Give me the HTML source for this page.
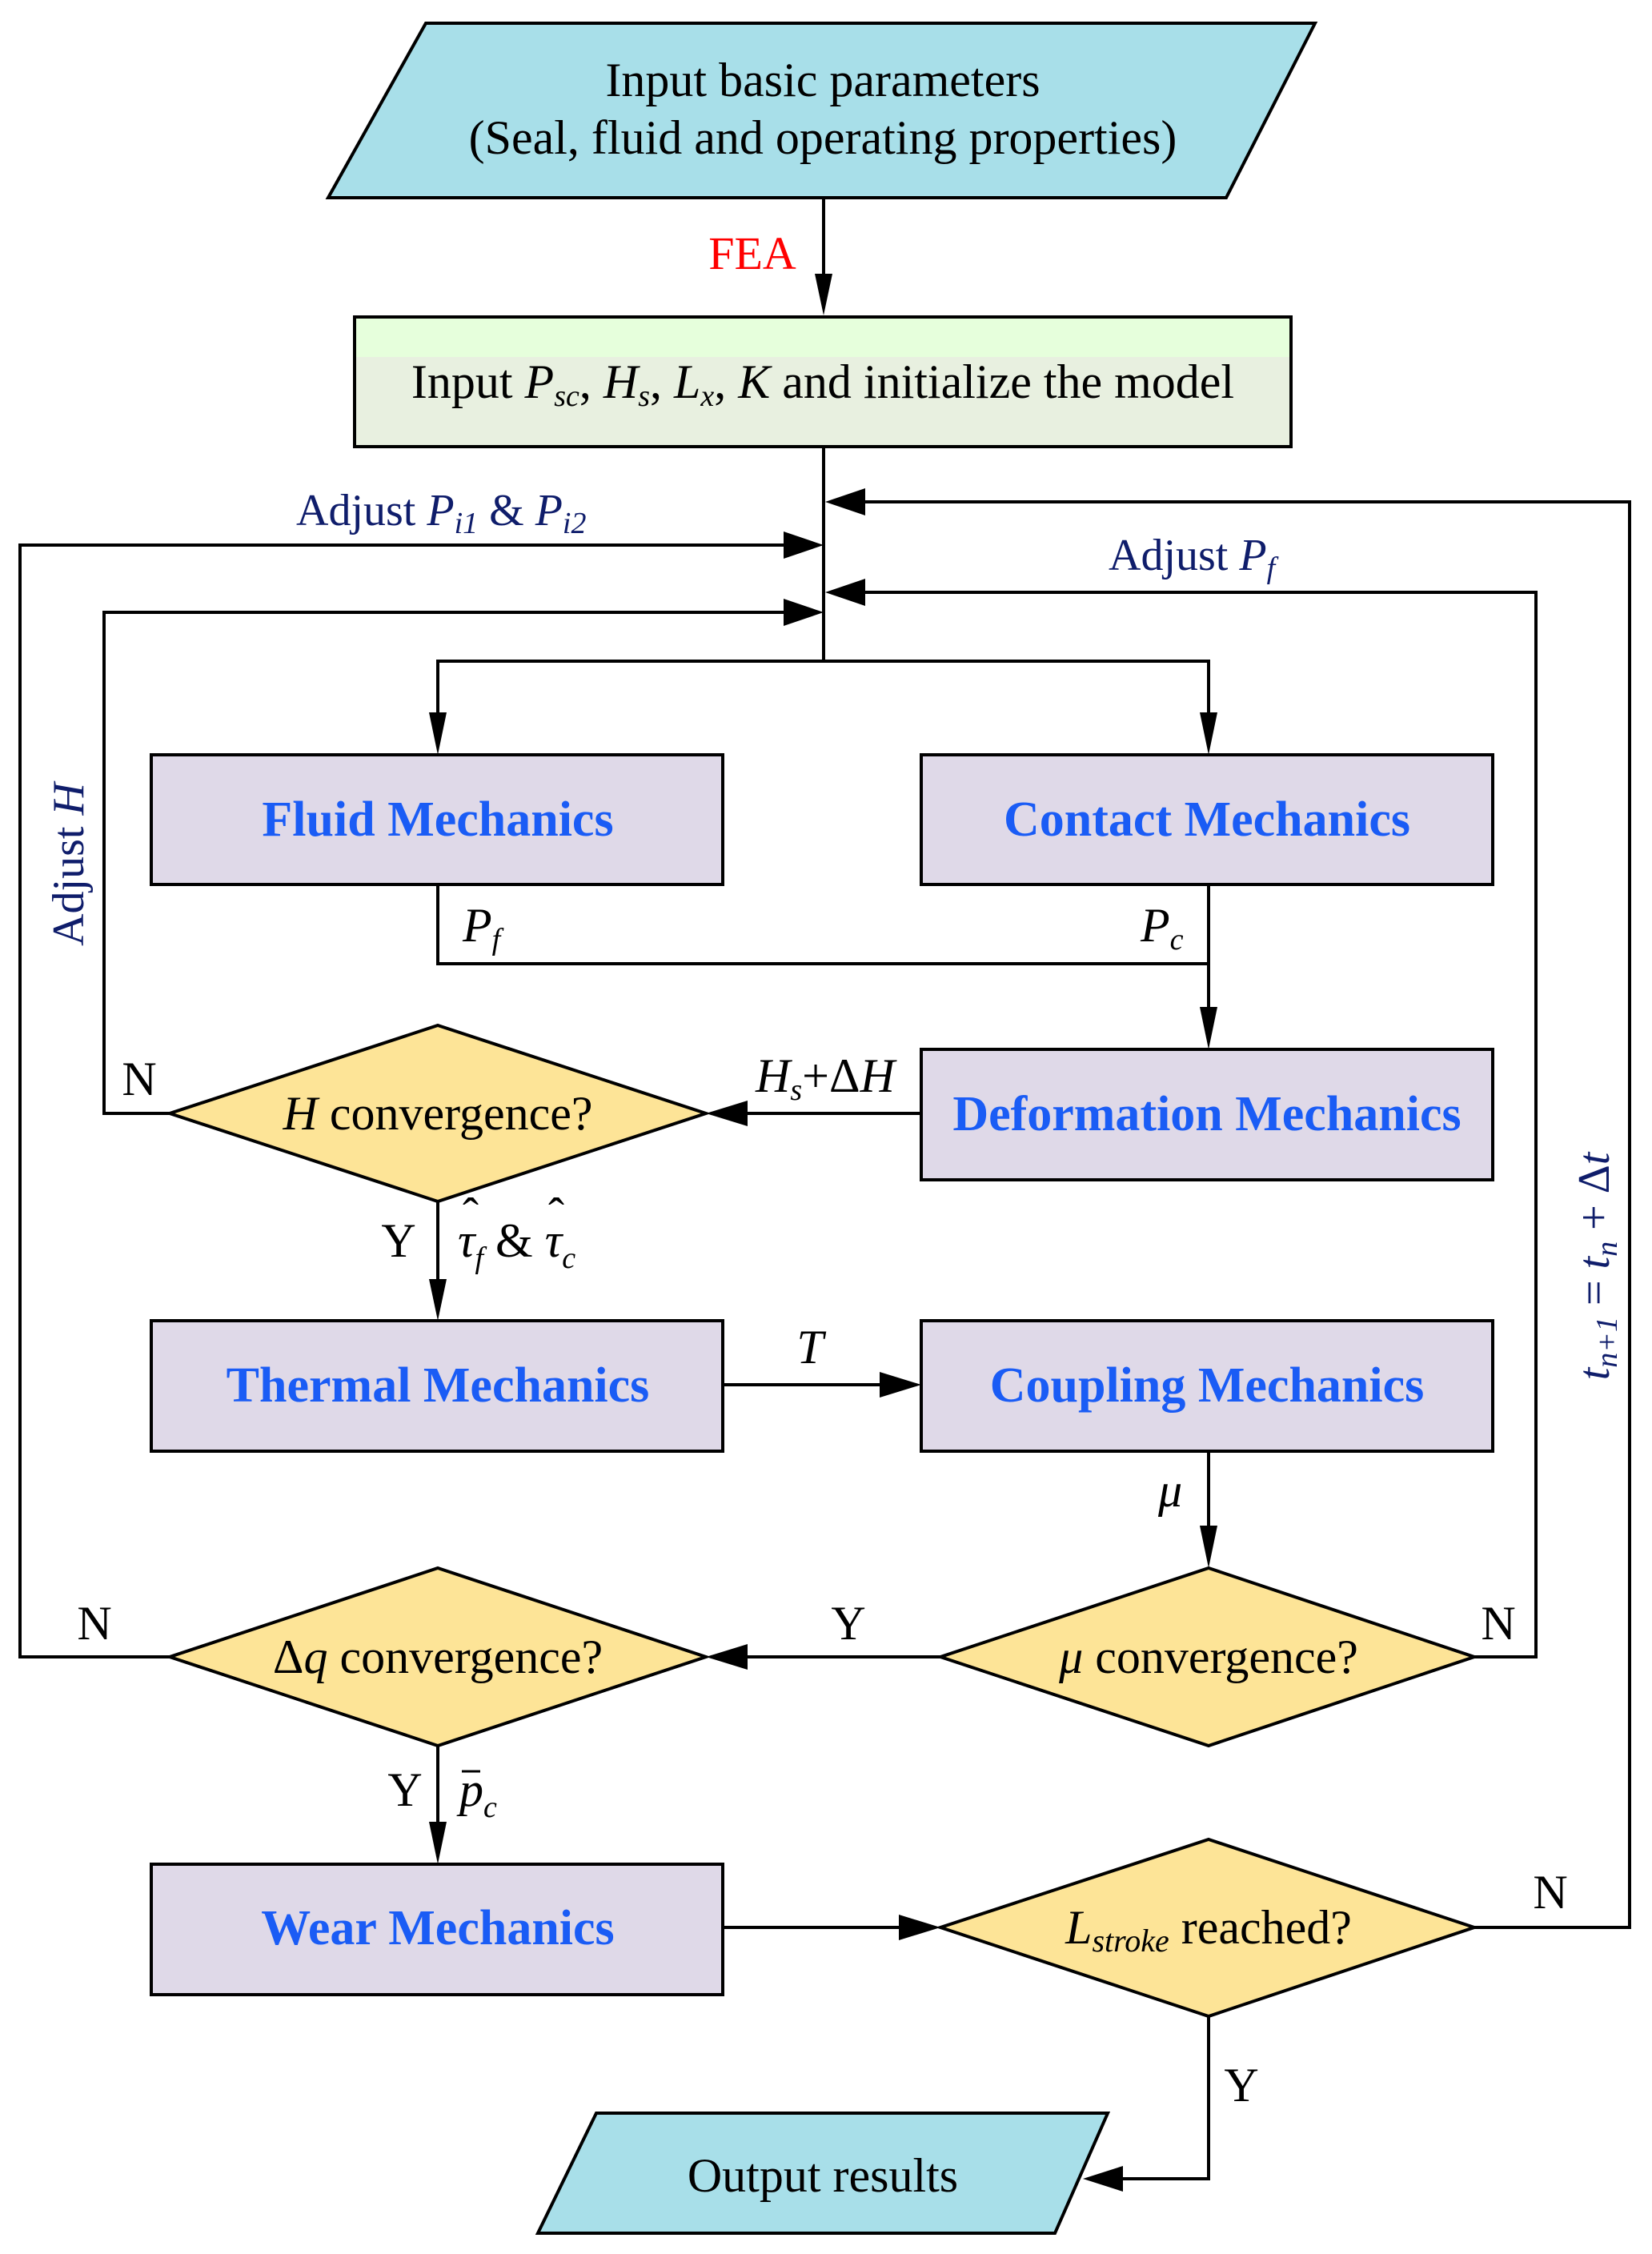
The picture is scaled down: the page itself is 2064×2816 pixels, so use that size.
<!DOCTYPE html>
<html><head><meta charset="utf-8"><style>
html,body{margin:0;padding:0;background:#fff}
svg{display:block}
text{font-family:"Liberation Serif",serif}
.t{font-size:60px;fill:#000}
.b{font-size:62px;font-weight:bold;fill:#1a5cf5}
.n{font-size:56px;fill:#0f1d6b}
.i{font-style:italic}
</style></head><body>
<svg width="2064" height="2816" viewBox="0 0 2064 2816" xmlns="http://www.w3.org/2000/svg">
<g stroke="#000" stroke-width="4">
<polygon points="532,29 1643,29 1532,247 410,247" fill="#a8dfe9"/>
<rect x="443" y="396" width="1170" height="162" fill="#e8f0e0"/>
<rect x="445" y="398" width="1166" height="48" fill="#e6ffdc" stroke="none"/>
<rect x="189" y="943" width="714" height="162" fill="#dfd9e8"/>
<rect x="1151" y="943" width="714" height="162" fill="#dfd9e8"/>
<rect x="1151" y="1311" width="714" height="163" fill="#dfd9e8"/>
<rect x="189" y="1650" width="714" height="163" fill="#dfd9e8"/>
<rect x="1151" y="1650" width="714" height="163" fill="#dfd9e8"/>
<rect x="189" y="2329" width="714" height="163" fill="#dfd9e8"/>
<polygon points="547,1281 882,1391 547,1501 212,1391" fill="#fde497"/>
<polygon points="547,1959 882,2070 547,2181 212,2070" fill="#fde497"/>
<polygon points="1510,1959 1842,2070 1510,2181 1175,2070" fill="#fde497"/>
<polygon points="1510,2298 1842,2408 1510,2519 1175,2408" fill="#fde497"/>
<polygon points="745,2640 1384,2640 1318,2790 672,2790" fill="#a8dfe9"/>
<g fill="none">
<line x1="1029" y1="247" x2="1029" y2="370"/>
<line x1="1029" y1="558" x2="1029" y2="826"/>
<polyline points="1058,627 2036,627 2036,2408 1842,2408"/>
<polyline points="1058,740 1919,740 1919,2070 1842,2070"/>
<polyline points="996,681 25,681 25,2070 212,2070"/>
<polyline points="996,765 130,765 130,1391 212,1391"/>
<polyline points="547,890 547,826 1510,826 1510,890"/>
<polyline points="547,1105 547,1204 1510,1204"/>
<line x1="1510" y1="1105" x2="1510" y2="1260"/>
<line x1="1151" y1="1391" x2="912" y2="1391"/>
<line x1="547" y1="1501" x2="547" y2="1600"/>
<line x1="903" y1="1730" x2="1122" y2="1730"/>
<line x1="1510" y1="1813" x2="1510" y2="1908"/>
<line x1="1175" y1="2070" x2="912" y2="2070"/>
<line x1="547" y1="2181" x2="547" y2="2278"/>
<line x1="903" y1="2408" x2="1140" y2="2408"/>
<polyline points="1510,2519 1510,2722 1375,2722"/>
</g>
</g>
<g fill="#000">
<polygon points="1029,394 1018,342 1040,342"/>
<polygon points="1031,627 1081,610 1081,644"/>
<polygon points="1029,681 979,664 979,698"/>
<polygon points="1031,740 1081,723 1081,757"/>
<polygon points="1029,765 979,748 979,782"/>
<polygon points="547,943 536,890 558,890"/>
<polygon points="1510,943 1499,890 1521,890"/>
<polygon points="1510,1311 1499,1258 1521,1258"/>
<polygon points="882,1391 934,1375 934,1407"/>
<polygon points="547,1650 536,1598 558,1598"/>
<polygon points="1151,1730 1099,1714 1099,1746"/>
<polygon points="1510,1959 1499,1906 1521,1906"/>
<polygon points="882,2070 934,2054 934,2086"/>
<polygon points="547,2329 536,2276 558,2276"/>
<polygon points="1175,2408 1123,2392 1123,2424"/>
<polygon points="1353,2722 1403,2706 1403,2738"/>
</g>
<g text-anchor="middle">
<text class="t" x="1028" y="120">Input basic parameters</text>
<text class="t" x="1028" y="192">(Seal, fluid and operating properties)</text>
<text x="940" y="336" style="font-size:58px;fill:#f00">FEA</text>
<text class="t" x="1028" y="497">Input <tspan class="i">P</tspan><tspan class="i" font-size="38" dy="10">sc</tspan><tspan dy="-10">, </tspan><tspan class="i">H</tspan><tspan class="i" font-size="38" dy="10">s</tspan><tspan dy="-10">, </tspan><tspan class="i">L</tspan><tspan class="i" font-size="38" dy="10">x</tspan><tspan dy="-10">, </tspan><tspan class="i">K</tspan> and initialize the model</text>
<text class="b" x="547" y="1044">Fluid Mechanics</text>
<text class="b" x="1508" y="1044">Contact Mechanics</text>
<text class="b" x="1508" y="1412">Deformation Mechanics</text>
<text class="b" x="547" y="1751">Thermal Mechanics</text>
<text class="b" x="1508" y="1751">Coupling Mechanics</text>
<text class="b" x="547" y="2429">Wear Mechanics</text>
<text class="t" x="547" y="1411"><tspan class="i">H</tspan> convergence?</text>
<text class="t" x="547" y="2090">Δ<tspan class="i">q</tspan> convergence?</text>
<text class="t" x="1510" y="2090"><tspan class="i">μ</tspan> convergence?</text>
<text class="t" x="1510" y="2428"><tspan class="i">L</tspan><tspan class="i" font-size="40" dy="10">stroke</tspan><tspan dy="-10"> reached?</tspan></text>
<text class="t" x="1028" y="2738">Output results</text>
<text class="t" x="174" y="1368">N</text>
<text class="t" x="118" y="2048">N</text>
<text class="t" x="1872" y="2048">N</text>
<text class="t" x="1937" y="2384">N</text>
<text class="t" x="1060" y="2048">Y</text>
<text class="t" x="498" y="1570">Y</text>
<text class="t" x="506" y="2256">Y</text>
<text class="t" x="1551" y="2625">Y</text>
<text class="t i" x="1012" y="1703">T</text>
<text class="t i" x="1462" y="1882">μ</text>
</g>
<text class="t" x="578" y="1176"><tspan class="i">P</tspan><tspan class="i" font-size="38" dy="10">f</tspan></text>
<text class="t" x="1425" y="1176"><tspan class="i">P</tspan><tspan class="i" font-size="38" dy="10">c</tspan></text>
<text class="t" x="944" y="1364"><tspan class="i">H</tspan><tspan class="i" font-size="38" dy="10">s</tspan><tspan dy="-10">+Δ</tspan><tspan class="i">H</tspan></text>
<text class="t" x="572" y="1570"><tspan class="i">τ</tspan><tspan class="i" font-size="38" dy="14">f</tspan><tspan dy="-14"> &amp; </tspan><tspan class="i">τ</tspan><tspan class="i" font-size="38" dy="14">c</tspan></text>
<text class="t" x="578" y="1538">ˆ</text>
<text class="t" x="685" y="1538">ˆ</text>
<text class="t" x="574" y="2256"><tspan class="i">p</tspan><tspan class="i" font-size="38" dy="14">c</tspan></text>
<line x1="577" y1="2213" x2="600" y2="2213" stroke="#000" stroke-width="3"/>
<text class="n" x="370" y="656">Adjust  <tspan class="i">P</tspan><tspan class="i" font-size="38" dy="10">i1</tspan><tspan dy="-10"> &amp; </tspan><tspan class="i">P</tspan><tspan class="i" font-size="38" dy="10">i2</tspan></text>
<text class="n" x="1385" y="712">Adjust <tspan class="i">P</tspan><tspan class="i" font-size="38" dy="10">f</tspan></text>
<text class="n" transform="translate(104,1080) rotate(-90)" text-anchor="middle">Adjust <tspan class="i">H</tspan></text>
<text class="n" transform="translate(2010,1582) rotate(-90)" text-anchor="middle"><tspan class="i">t</tspan><tspan class="i" font-size="38" dy="10">n+1</tspan><tspan dy="-10"> = </tspan><tspan class="i">t</tspan><tspan class="i" font-size="38" dy="10">n</tspan><tspan dy="-10"> + Δ</tspan><tspan class="i">t</tspan></text>
</svg>
</body></html>
